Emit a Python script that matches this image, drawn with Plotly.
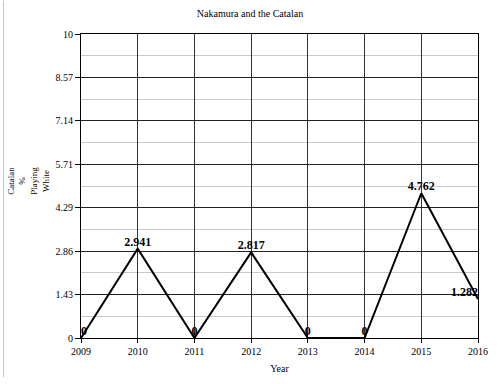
import plotly.graph_objects as go

years = [2009, 2010, 2011, 2012, 2013, 2014, 2015, 2016]
catalan_pct = [0, 2.941, 0, 2.817, 0, 0, 4.762, 1.282]
value_labels = ["0", "2.941", "0", "2.817", "0", "0", "4.762", "1.282"]
y_tick_vals = [0, 10/7, 20/7, 30/7, 40/7, 50/7, 60/7, 10]
y_tick_text = ["0", "1.43", "2.86", "4.29", "5.71", "7.14", "8.57", "10"]
y_minor_vals = [(i + 0.5) * 10/7 for i in range(7)]

positions = ["top right"] + ["top center"] * 6 + ["top left"]

font = "Liberation Serif"

L, R, T, B = 81, 17, 34, 40
PW = 500 - L - R
PH = 384 - T - B

fig = go.Figure()
fig.add_trace(go.Scatter(
    x=years, y=catalan_pct, mode="lines+text",
    line=dict(color="black", width=2),
    text=value_labels, textposition=positions,
    textfont=dict(family=font, size=12, color="black", weight="bold"),
    cliponaxis=False, showlegend=False, hoverinfo="skip",
))

fig.update_layout(
    width=500, height=384,
    margin=dict(l=L, r=R, t=T, b=B),
    paper_bgcolor="white", plot_bgcolor="white",
    font=dict(family=font, size=10, color="black"),
    title=dict(text="Nakamura and the Catalan", x=0.5, xanchor="center",
               y=1 - 13/384, yanchor="middle", font=dict(size=10, family=font)),
    xaxis=dict(
        range=[2009, 2016], tickvals=years, ticktext=[str(y) for y in years],
        showgrid=True, gridcolor="#333333", gridwidth=1,
        showline=True, linecolor="black", linewidth=1, mirror=True,
        ticks="outside", ticklen=4, tickcolor="black",
        title=dict(text="Year", standoff=8, font=dict(size=10)),
        zeroline=False, fixedrange=True,
    ),
    yaxis=dict(
        range=[0, 10], tickvals=y_tick_vals, ticktext=y_tick_text,
        showgrid=True, gridcolor="#222222", gridwidth=1,
        showline=True, linecolor="black", linewidth=1, mirror=True,
        ticks="outside", ticklen=5, tickcolor="black",
        minor=dict(tickvals=y_minor_vals, showgrid=True, gridcolor="#c8c8c8", gridwidth=1, ticks=""),
        zeroline=False, fixedrange=True,
    ),
    annotations=[dict(
        text="Catalan<br>%<br>Playing<br>White", textangle=-90,
        xref="paper", yref="paper", x=(27 - L) / PW, y=(384 - B - 184) / PH,
        xanchor="center", yanchor="middle", showarrow=False,
        font=dict(size=9, family=font),
    )],
    shapes=[
        dict(type="line", xref="paper", yref="paper", layer="above",
             x0=(2.5 - L) / PW, x1=(2.5 - L) / PW, y0=-B / PH, y1=1 + T / PH,
             line=dict(color="#c4c4c4", width=1)),
    ],
)

fig.write_html(
    "out.html",
    config={"displayModeBar": False, "staticPlot": True},
    post_script="document.documentElement.style.overflow='hidden';document.body.style.margin='0';document.body.style.overflow='hidden';",
)
